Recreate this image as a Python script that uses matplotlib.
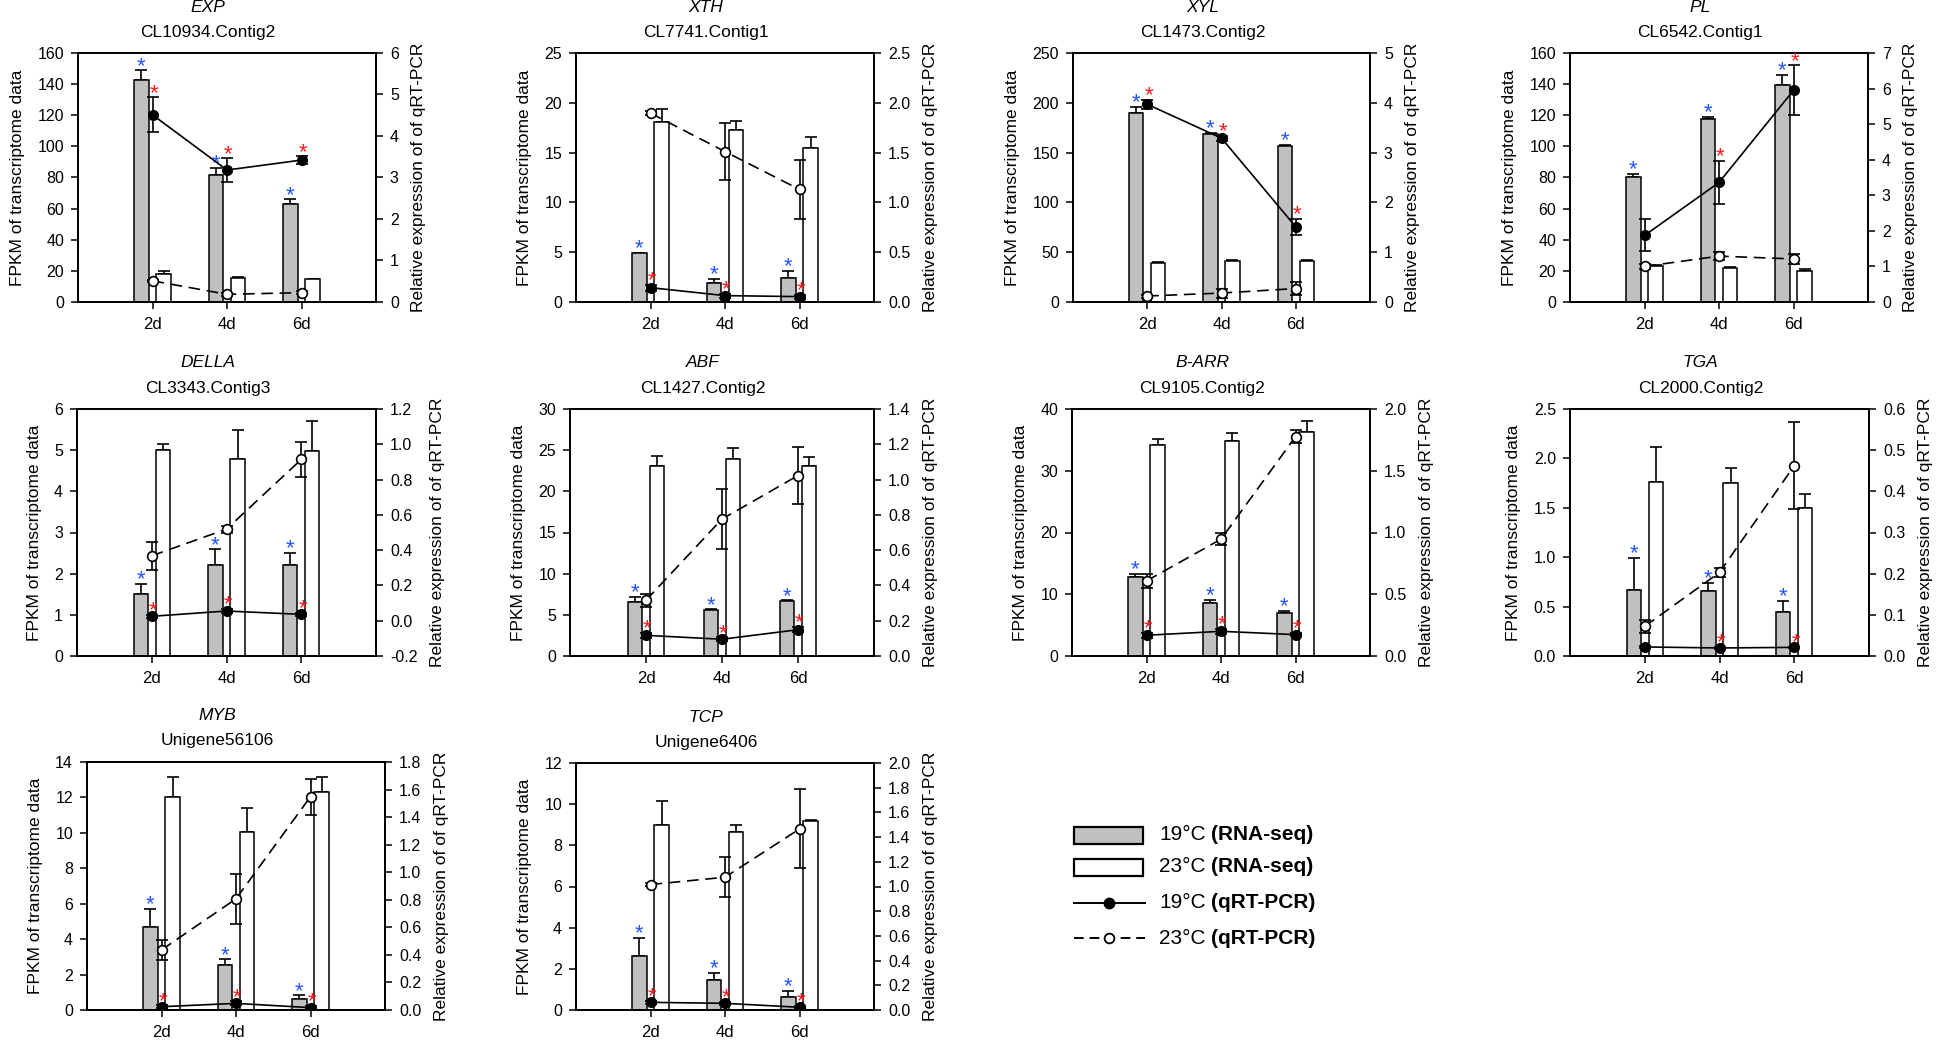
import matplotlib
matplotlib.use('Agg')
import matplotlib.pyplot as plt
from matplotlib.patches import Rectangle
from matplotlib.lines import Line2D
import numpy as np

plt.rcParams['font.family'] = ['Liberation Sans', 'DejaVu Sans']

# ---------------- data ----------------
days = ['2d', '4d', '6d']
genes = ['EXP', 'XTH', 'XYL', 'PL', 'DELLA', 'ABF', 'B-ARR', 'TGA', 'MYB', 'TCP']
contigs = ['CL10934.Contig2', 'CL7741.Contig1', 'CL1473.Contig2', 'CL6542.Contig1',
           'CL3343.Contig3', 'CL1427.Contig2', 'CL9105.Contig2', 'CL2000.Contig2',
           'Unigene56106', 'Unigene6406']

# FPKM (RNA-seq), 19 C and 23 C, with upper error
fpkm19 = [[142.8, 81.6, 62.7], [4.87, 1.95, 2.42], [189.6, 169.0, 157.0], [80.5, 117.7, 139.4],
          [1.50, 2.20, 2.20], [6.57, 5.55, 6.65], [12.76, 8.54, 6.92], [0.672, 0.662, 0.446],
          [4.67, 2.52, 0.62], [2.62, 1.44, 0.65]]
fpkm19_err = [[6.0, 4.7, 3.2], [0.05, 0.4, 0.7], [6.0, 1.0, 1.0], [2.0, 1.0, 6.4],
              [0.25, 0.39, 0.31], [0.65, 0.1, 0.1], [0.6, 0.54, 0.38], [0.32, 0.078, 0.11],
              [1.04, 0.34, 0.2], [0.9, 0.37, 0.29]]
fpkm23 = [[17.8, 15.5, 14.6], [18.1, 17.3, 15.5], [39.6, 41.3, 41.3], [23.0, 21.9, 19.8],
          [5.0, 4.78, 4.99], [23.1, 23.9, 23.1], [34.2, 34.8, 36.3], [1.763, 1.747, 1.50],
          [12.0, 10.04, 12.29], [9.01, 8.65, 9.19]]
fpkm23_err = [[2.0, 0.3, 0.4], [1.3, 0.85, 1.1], [0.3, 1.0, 1.0], [0.5, 0.5, 1.5],
              [0.14, 0.7, 0.72], [1.15, 1.4, 1.1], [0.9, 1.35, 1.8], [0.355, 0.16, 0.135],
              [1.13, 1.34, 0.88], [1.13, 0.36, 0.05]]

# qRT-PCR relative expression
qpcr19 = [[4.51, 3.18, 3.42], [0.144, 0.064, 0.054], [3.97, 3.29, 1.51], [1.87, 3.36, 5.95],
          [0.025, 0.055, 0.036], [0.117, 0.095, 0.149], [0.168, 0.200, 0.173], [0.022, 0.0195, 0.021],
          [0.024, 0.048, 0.017], [0.062, 0.054, 0.022]]
qpcr19_err = [[0.42, 0.28, 0.09], [0.03, 0.02, 0.02], [0.09, 0.05, 0.16], [0.45, 0.6, 0.7],
              [0.01, 0.01, 0.01], [0.015, 0.01, 0.015], [0.02, 0.02, 0.015], [0.002, 0.002, 0.002],
              [0.01, 0.015, 0.01], [0.01, 0.01, 0.01]]
qpcr23 = [[0.51, 0.185, 0.225], [1.896, 1.51, 1.13], [0.12, 0.18, 0.27], [1.0, 1.29, 1.21],
          [0.368, 0.519, 0.914], [0.316, 0.776, 1.023], [0.608, 0.946, 1.776], [0.072, 0.203, 0.462],
          [0.436, 0.807, 1.548], [1.016, 1.075, 1.466]]
qpcr23_err = [[0.03, 0.03, 0.03], [0.02, 0.29, 0.3], [0.03, 0.09, 0.13], [0.08, 0.12, 0.14],
              [0.08, 0.02, 0.1], [0.038, 0.17, 0.16], [0.057, 0.047, 0.05], [0.015, 0.01, 0.106],
              [0.07, 0.18, 0.13], [0.01, 0.16, 0.32]]

# significance stars: blue over 19C RNA-seq bars, red over 19C qRT-PCR points
star_rna = [[1, 1, 1]] * 10
star_pcr = [[1, 1, 1], [1, 1, 1], [1, 1, 1], [0, 1, 1], [1, 1, 1],
            [1, 1, 1], [1, 1, 1], [0, 1, 1], [1, 1, 1], [1, 1, 1]]

# axis ticks
left_ticks = [[0, 20, 40, 60, 80, 100, 120, 140, 160], [0, 5, 10, 15, 20, 25],
              [0, 50, 100, 150, 200, 250], [0, 20, 40, 60, 80, 100, 120, 140, 160],
              [0, 1, 2, 3, 4, 5, 6], [0, 5, 10, 15, 20, 25, 30], [0, 10, 20, 30, 40],
              [0.0, 0.5, 1.0, 1.5, 2.0, 2.5], [0, 2, 4, 6, 8, 10, 12, 14], [0, 2, 4, 6, 8, 10, 12]]
left_fmt = ['%d', '%d', '%d', '%d', '%d', '%d', '%d', '%.1f', '%d', '%d']
right_ticks = [[0, 1, 2, 3, 4, 5, 6], [0.0, 0.5, 1.0, 1.5, 2.0, 2.5], [0, 1, 2, 3, 4, 5],
               [0, 1, 2, 3, 4, 5, 6, 7], [-0.2, 0.0, 0.2, 0.4, 0.6, 0.8, 1.0, 1.2],
               [0.0, 0.2, 0.4, 0.6, 0.8, 1.0, 1.2, 1.4], [0.0, 0.5, 1.0, 1.5, 2.0],
               [0.0, 0.1, 0.2, 0.3, 0.4, 0.5, 0.6], [0.0, 0.2, 0.4, 0.6, 0.8, 1.0, 1.2, 1.4, 1.6, 1.8],
               [0.0, 0.2, 0.4, 0.6, 0.8, 1.0, 1.2, 1.4, 1.6, 1.8, 2.0]]
right_fmt = ['%d', '%.1f', '%d', '%d', '%.1f', '%.1f', '%.1f', '%.1f', '%.1f', '%.1f']

legend_temps = ['19°C', '23°C', '19°C', '23°C']
legend_methods = ['(RNA-seq)', '(RNA-seq)', '(qRT-PCR)', '(qRT-PCR)']

# ---------------- layout (pixels) ----------------
W, H = 1946, 1043
boxes = [(78, 376, 53, 302), (576, 874, 53, 302), (1073, 1370, 53, 302), (1570, 1868, 53, 302),
         (77, 376, 409, 656), (570, 874, 409, 656), (1072, 1370, 409, 656), (1570, 1869, 409, 656),
         (87, 385, 762, 1010), (576, 874, 763, 1010)]

GRAY = '#c0c0c0'
BLUE = '#2255ff'
RED = '#ff1a1a'
DASH = (0, (7, 4))
LW = 1.2
STAR_DY = -1.0
fig = plt.figure(figsize=(W / 100, H / 100), dpi=100)
fig.patch.set_facecolor('white')

x = np.arange(1, 4)
bw = 0.19
off = 0.148
for i in range(10):
    l, r, t, b = boxes[i]
    ax = fig.add_axes([l / W, 1 - b / H, (r - l) / W, (b - t) / H])
    ax.bar(x - off, fpkm19[i], width=bw, color=GRAY, edgecolor='black', linewidth=1.1, zorder=2)
    ax.bar(x + off, fpkm23[i], width=bw, color='white', edgecolor='black', linewidth=1.1, zorder=2)
    ax.errorbar(x - off, fpkm19[i], yerr=[np.zeros(3), fpkm19_err[i]], fmt='none', ecolor='black',
                elinewidth=LW, capsize=4.3, capthick=LW, zorder=1)
    ax.errorbar(x + off, fpkm23[i], yerr=[np.zeros(3), fpkm23_err[i]], fmt='none', ecolor='black',
                elinewidth=LW, capsize=4.3, capthick=LW, zorder=1)
    lt = left_ticks[i]
    ax.set_ylim(lt[0], lt[-1])
    ax.set_yticks(lt)
    ax.set_yticklabels([left_fmt[i] % v for v in lt])
    ax.set_xlim(0, 4)
    ax.set_xticks(x)
    ax.set_xticklabels(days)
    for j in range(3):
        if star_rna[i][j]:
            ax.annotate('*', xy=(x[j] - off, fpkm19[i][j] + fpkm19_err[i][j]), xytext=(0, STAR_DY),
                        textcoords='offset points', ha='center', va='baseline', color=BLUE,
                        fontsize=16, zorder=5)
    ax.tick_params(direction='out', length=5, width=1.1, labelsize=11.5, top=False, pad=5)
    ax.tick_params(axis='x', pad=6, labelsize=12)
    ax.set_ylabel('FPKM of transcriptome data', fontsize=12.5, labelpad=9)
    for s in ax.spines.values():
        s.set_linewidth(1.3)

    ax2 = ax.twinx()
    ax2.errorbar(x, qpcr19[i], yerr=qpcr19_err[i], fmt='o', linestyle='-', color='black',
                 mfc='black', mec='black', ms=7, lw=LW, elinewidth=LW, capsize=4.6,
                 capthick=LW, zorder=3)
    ax2.errorbar(x, qpcr23[i], yerr=qpcr23_err[i], fmt='o', linestyle=DASH, color='black',
                 mfc='white', mec='black', ms=7, mew=1.2, lw=LW, elinewidth=LW, capsize=4.6,
                 capthick=LW, zorder=3)
    rt = right_ticks[i]
    ax2.set_ylim(rt[0], rt[-1])
    ax2.set_yticks(rt)
    ax2.set_yticklabels([right_fmt[i] % v for v in rt])
    for j in range(3):
        if star_pcr[i][j]:
            ax2.annotate('*', xy=(x[j], qpcr19[i][j] + qpcr19_err[i][j]), xytext=(1, STAR_DY),
                         textcoords='offset points', ha='center', va='baseline', color=RED,
                         fontsize=16, zorder=5)
    ax2.tick_params(direction='out', length=5, width=1.1, labelsize=11.5, pad=5)
    ax2.set_ylabel('Relative expression of of qRT-PCR', fontsize=12.5, labelpad=9)
    for s in ax2.spines.values():
        s.set_linewidth(1.3)

    cx = ((l + r) / 2 - 19) / W
    fig.text(cx, 1 - (t - 46) / H, genes[i], style='italic', fontsize=12.5, ha='center', va='center')
    fig.text(cx, 1 - (t - 21) / H, contigs[i], fontsize=12.5, ha='center', va='center')

# ---------------- legend ----------------
lax = fig.add_axes([0, 0, 1, 1], zorder=10)
lax.set_xlim(0, W)
lax.set_ylim(H, 0)
lax.axis('off')
rows_y = [835, 867, 903, 938]
lax.add_patch(Rectangle((1074, rows_y[0] - 8.5), 69, 17, facecolor=GRAY, edgecolor='black', lw=1.6))
lax.add_patch(Rectangle((1074, rows_y[1] - 8.5), 69, 17, facecolor='white', edgecolor='black', lw=1.6))
lax.add_line(Line2D([1074, 1145], [rows_y[2]] * 2, color='black', lw=1.4))
lax.add_line(Line2D([1109], [rows_y[2]], marker='o', ms=7.5, mfc='black', mec='black', lw=0))
lax.add_line(Line2D([1074, 1145], [rows_y[3]] * 2, color='black', lw=1.4, linestyle=(0, (5, 3))))
lax.add_line(Line2D([1109], [rows_y[3]], marker='o', ms=7, mfc='white', mec='black', mew=1.3, lw=0))
for k in range(4):
    t1 = lax.text(1159, rows_y[k], legend_temps[k], fontsize=15, ha='left', va='center')
    lax.annotate(legend_methods[k], xy=(1, 0.5), xycoords=t1, xytext=(4.2, 0),
                 textcoords='offset points', ha='left', va='center', fontsize=15, fontweight='bold')

fig.savefig('out.png', dpi=100, facecolor='white')
